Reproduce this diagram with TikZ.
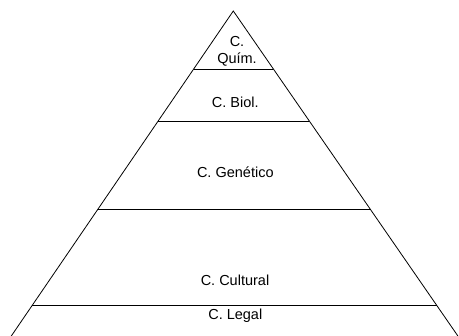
\documentclass[tikz,border=0pt]{standalone}
\usepackage{fontspec}
\setmainfont{Liberation Sans}
\usetikzlibrary{calc}

\begin{document}
\begin{tikzpicture}[x=1pt, y=-1pt, line width=0.8pt, level/.style = {font=\fontsize{14.5}{17}\selectfont, anchor=base}]
		\useasboundingbox (0,0) rectangle (459,336);
		\coordinate (top) at (233.3,11);
		\coordinate (bl) at (11.3,336);
		\coordinate (br) at (457.9,336);
		\coordinate (l1) at ($(top)!0.1785!(bl)$);
		\coordinate (r1) at ($(top)!0.1785!(br)$);
		\coordinate (l2) at ($(top)!0.3385!(bl)$);
		\coordinate (r2) at ($(top)!0.3385!(br)$);
		\coordinate (l3) at ($(top)!0.609!(bl)$);
		\coordinate (r3) at ($(top)!0.609!(br)$);
		\coordinate (l4) at ($(top)!0.9055!(bl)$);
		\coordinate (r4) at ($(top)!0.9055!(br)$);
		\draw (bl) -- (top) -- (br);
		\draw (l1) -- (r1);
		\draw (l2) -- (r2);
		\draw (l3) -- (r3);
		\draw (l4) -- (r4);
		\node[level, anchor=center, align=center] (quim) at (237,51.5) {C.\\Quím.};
		\node[level] (biol) at (235.3,107.3) {C. Biol.};
		\node[level] (genetico) at (235.3,177.7) {C. Genético};
		\node[level] (cultural) at (235,286) {C. Cultural};
		\node[level] (legal) at (235.3,319.5) {C. Legal};
		\end{tikzpicture}
\end{document}
